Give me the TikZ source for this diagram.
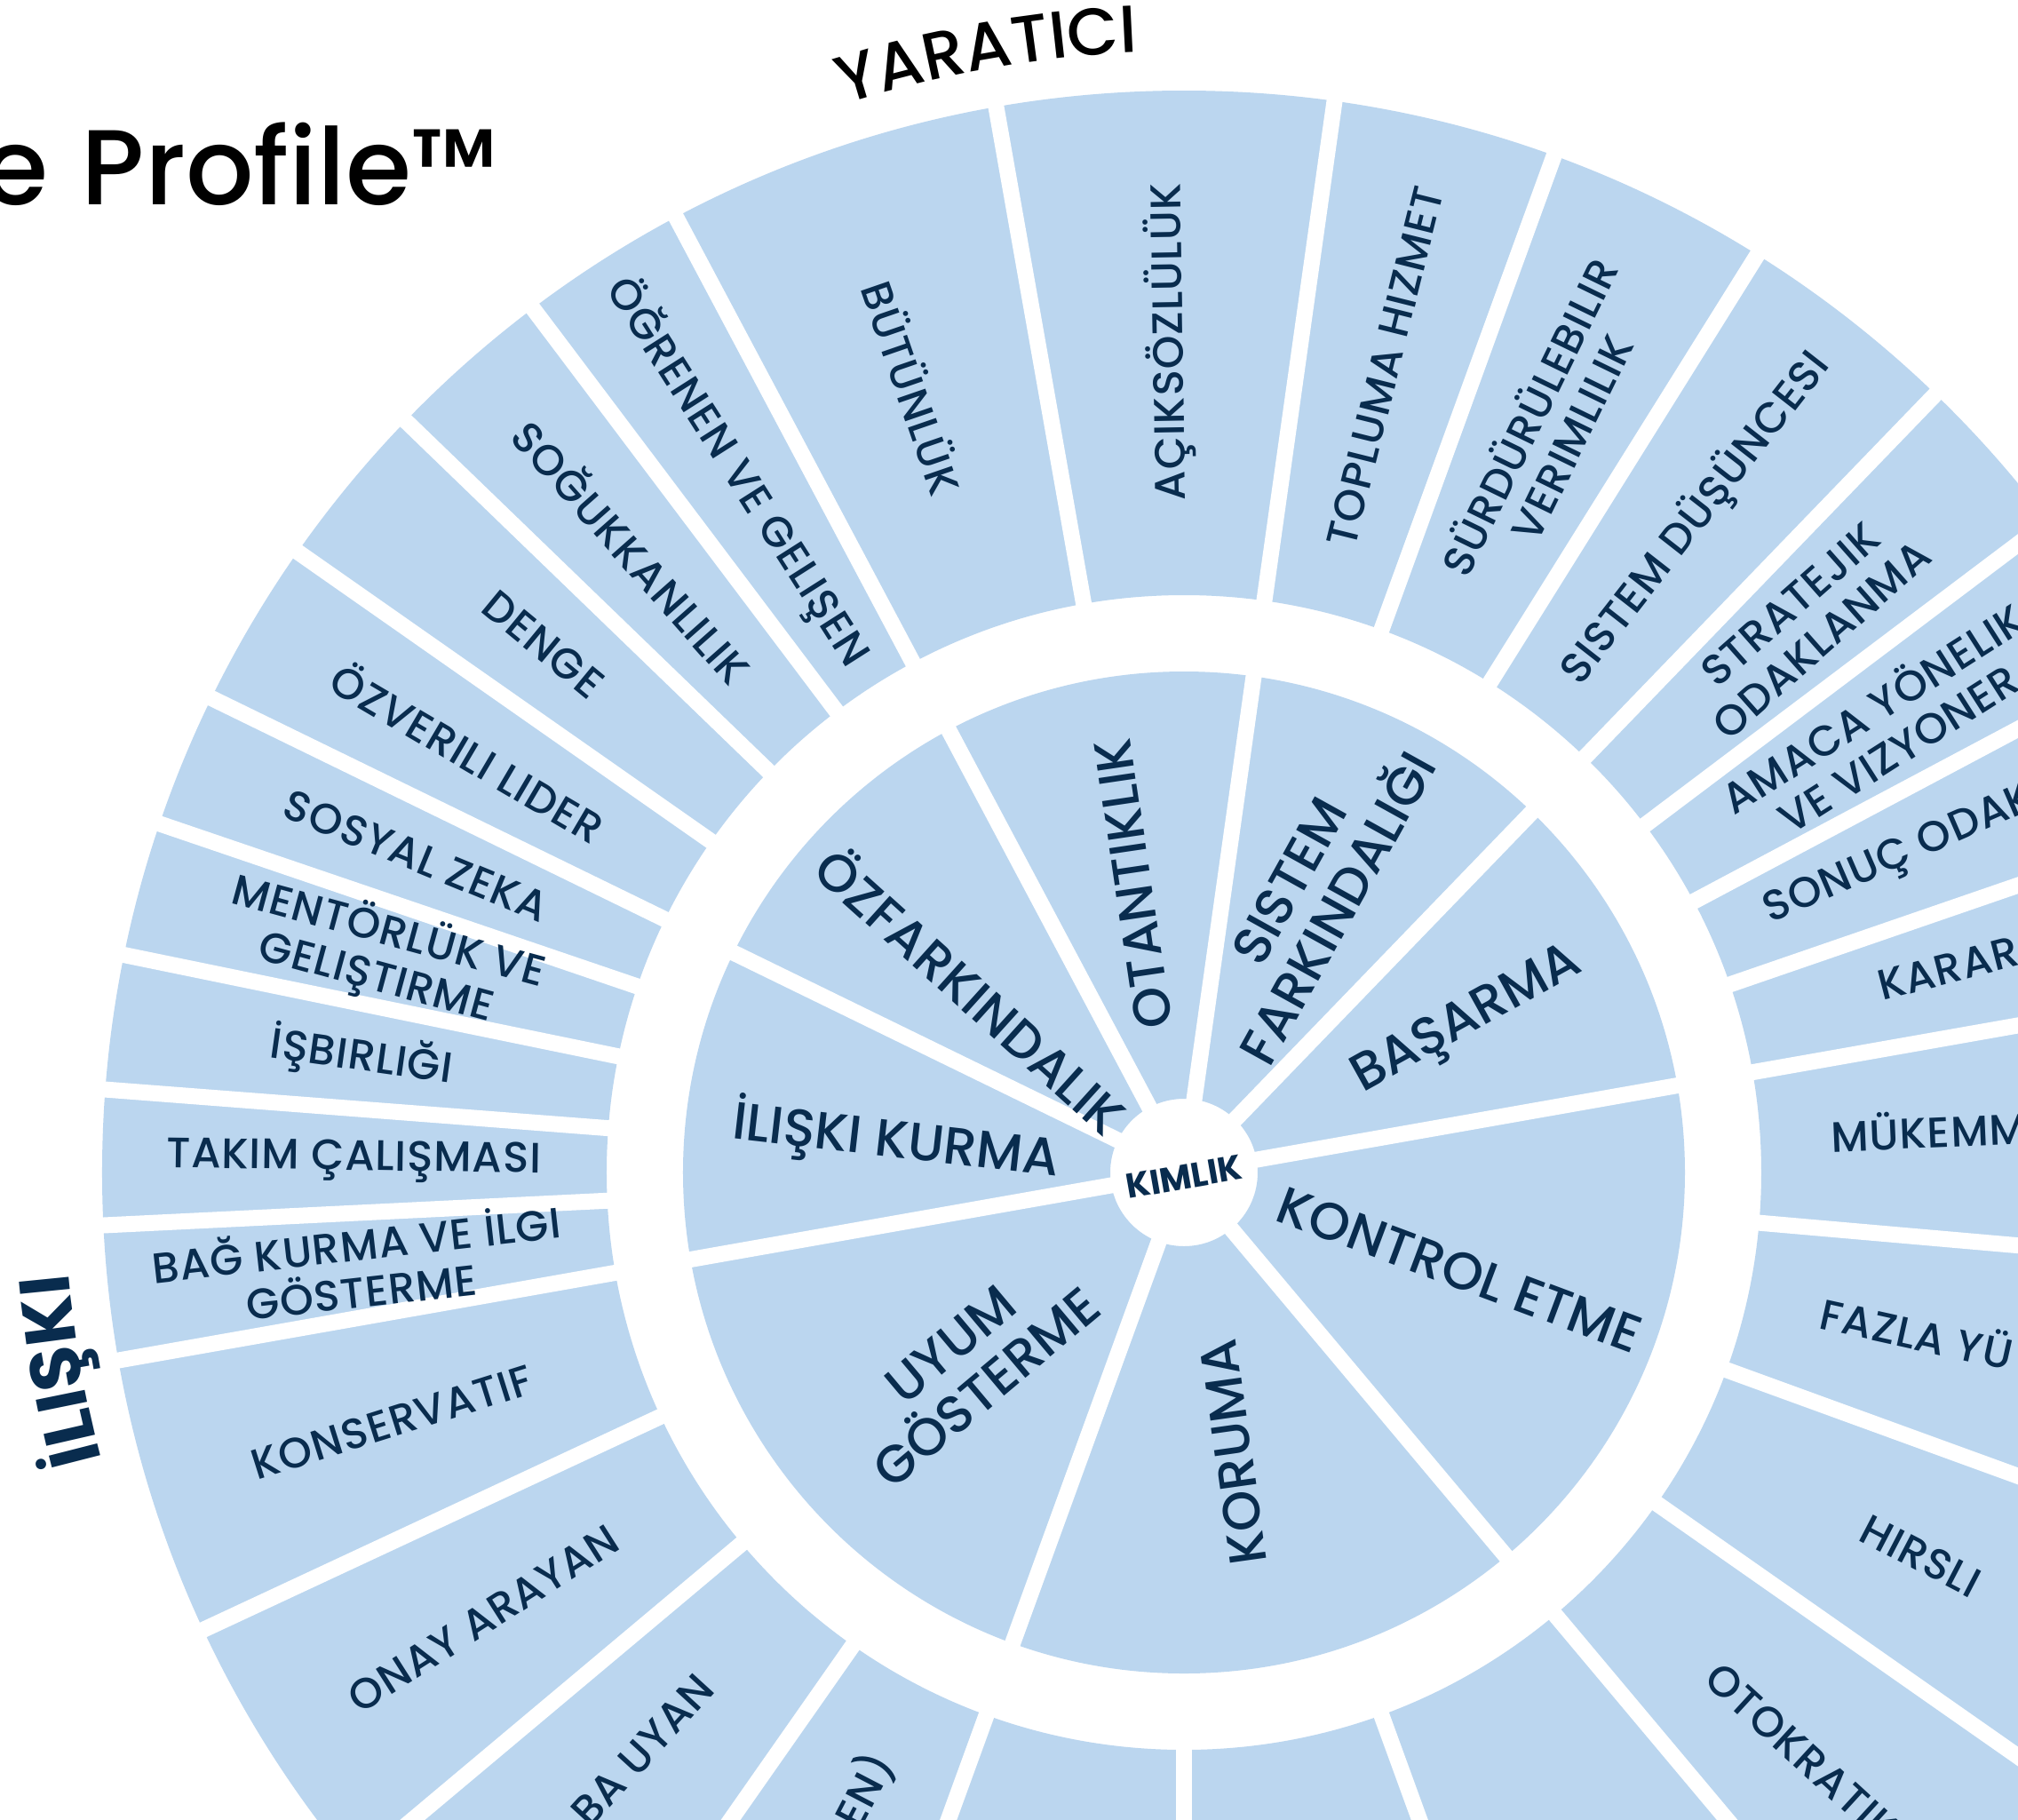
\documentclass[tikz,border=0pt]{standalone}
\usepackage{fontspec}
\setmainfont{Poppins}[UprightFont=* Medium, BoldFont=* SemiBold]
\newfontface\heavyfont{Poppins Bold}
\usetikzlibrary{decorations.text}
\definecolor{ringblue}{RGB}{187,214,239}
\definecolor{navy}{RGB}{9,44,78}
\newcommand{\ringfont}{\fontsize{0.48cm}{0.53cm}\selectfont\addfontfeatures{LetterSpace=2}}
\newcommand{\corefont}{\fontsize{0.59cm}{0.63cm}\selectfont}
\newcommand{\headfont}{\fontsize{0.75cm}{0.8cm}\selectfont}
\tikzset{
  gap/.style={white, line width=0.18cm},
  seglabel/.style={text=navy, font=\ringfont, align=center, inner sep=0pt},
  corelabel/.style={text=navy, font=\corefont, align=center, inner sep=0pt}
}
\begin{document}
\begin{tikzpicture}
\useasboundingbox (-13.33,-7.28) rectangle (9.39,13.20);
\clip (-13.33,-7.28) rectangle (9.39,13.20);
\fill[white] (-13.33,-7.28) rectangle (9.39,13.20);

\fill[ringblue, even odd rule] (0,0) circle (12.18) circle (6.50);
\fill[ringblue, even odd rule] (0,0) circle (5.64) circle (0.83);
\foreach \a in {10,46,82,118,154,190,250,310}
  \draw[gap] (0,0) -- (\a:5.9);
\foreach \a in {10,19,28,37,46,58,70,82,100,118,127,136,145,154,161.2,168.4,175.6,182.8,190,205,220,235,250,270,290,310,325,340,355}
  \draw[gap] (\a:6.2) -- (\a:12.5);

\node[font=\heavyfont\fontsize{0.39cm}{0.4cm}\selectfont, text=navy, rotate=10] (kimlik) at (0,-0.05) {KIMLIK};

\foreach \a/\r/\t/\txt [count=\i] in {
  28/3.62/29/BAŞARMA,
  65/3.45/61/{SISTEM\\FARKINDALIĞI},
  100/3.30/98.4/OTANTIKLIK,
  139/3.15/-42/ÖZFARKINDALIK,
  173.8/3.26/-6.5/İLIŞKI KURMA,
  222/3.26/40/{UYUM\\GÖSTERME},
  280/3.20/98/KORUMA,
  -19.5/3.29/-20.5/KONTROL ETME}
  \node[corelabel, rotate=\t] (core-\i) at (\a:\r) {\txt};

\foreach \a/\t/\txt [count=\i] in {
  41.5/41.5/{STRATEJIK\\ODAKLANMA},
  32.5/32.5/{AMACA YÖNELIK\\VE VIZYONER},
  52/52/SISTEM DÜŞÜNCESI,
  64/64/{SÜRDÜRÜLEBILIR\\VERIMLILIK},
  76/76/TOPLUMA HIZMET,
  91/91/AÇIKSÖZLÜLÜK,
  109/-71/BÜTÜNLÜK,
  122.5/-57.5/ÖĞRENEN VE GELIŞEN,
  131.5/-48.5/SOĞUKKANLILIK,
  140.5/-39.5/DENGE,
  149.5/-30.5/ÖZVERILI LIDER,
  157.6/-22.4/SOSYAL ZEKA,
  164.8/-15.2/{MENTÖRLÜK VE\\GELIŞTIRME},
  172/-8/İŞBIRLIĞI,
  179.2/-0.8/TAKIM ÇALIŞMASI,
  186.4/6.4/{BAĞ KURMA VE İLGI\\GÖSTERME},
  197.5/17.5/KONSERVATIF,
  212.5/32.5/ONAY ARAYAN,
  332.5/-27.5/HIRSLI}
  \node[seglabel, rotate=\t] (comp-\i) at (\a:9.35) {\txt};

\foreach \a/\r/\t/\txt [count=\i] in {
  13.8/8.09/14.5/KARAR,
  23/7.17/23.5/SONUÇ ODAK,
  1.8/7.29/2.5/MÜKEMM,
  -13.8/7.34/-12.5/FAZLA YÜ,
  -44.5/8.17/-42.5/OTOKRATIK}
  \node[seglabel, anchor=base west, rotate=\t] (edge-\i) at (\a:\r) {\txt};
\foreach \a/\r/\t/\txt [count=\i] in {
  244/7.40/62.5/EN),
  228/7.85/47.5/BA UYAN}
  \node[seglabel, anchor=base east, rotate=\t] (foot-\i) at (\a:\r) {\txt};

\path[decorate, decoration={text along path, text align=center,
  text={|\headfont\color{black}|YARATICI}}]
  (108:12.62) arc[start angle=108, end angle=92, radius=12.62];
\path[decorate, decoration={text along path, text align=center,
  text={|\heavyfont\fontsize{0.8cm}{0.85cm}\selectfont\color{navy}|İLIŞKI}}]
  (195.5:12.61) arc[start angle=195.5, end angle=184.5, radius=12.61];

\node[anchor=base east, font=\fontsize{1.2cm}{1.35cm}\selectfont] (title) at (-7.60,10.90) {e\hspace{0.37cm}Profile™};
\end{tikzpicture}
\end{document}
